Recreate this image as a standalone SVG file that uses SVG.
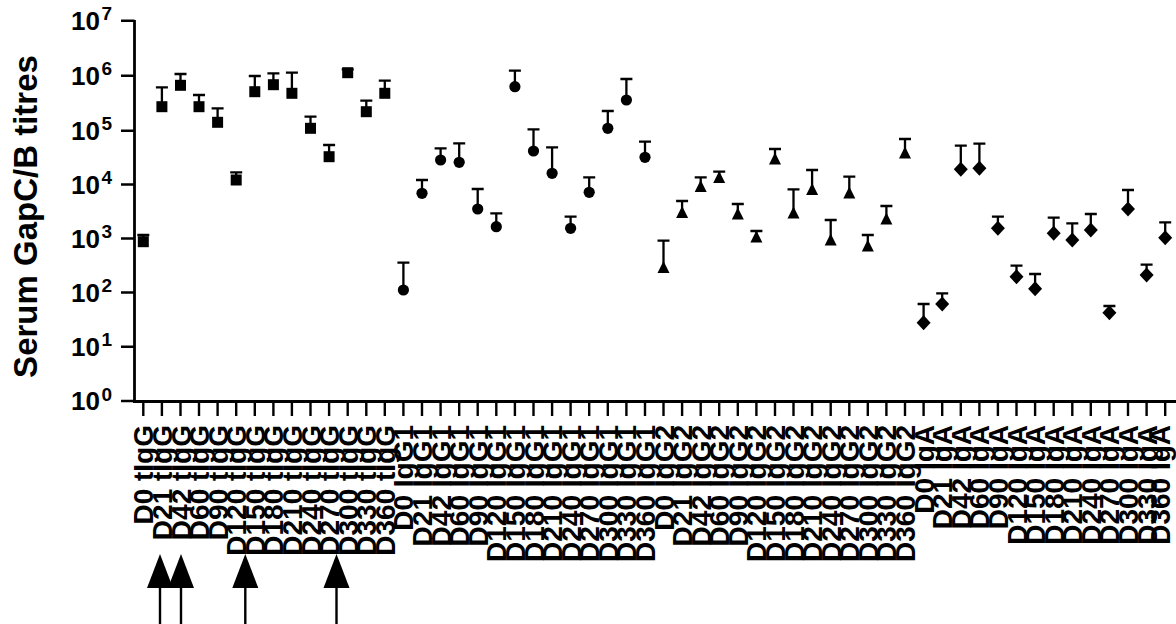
<svg xmlns="http://www.w3.org/2000/svg" xmlns:xlink="http://www.w3.org/1999/xlink" width="1176" height="624" viewBox="0 0 1176 624">
<style>
.ax{stroke:#000;stroke-width:2.8;fill:none}
.tk{stroke:#000;stroke-width:2.4;fill:none}
.eb{stroke:#000;stroke-width:2.3;fill:none}
.t{font-family:"Liberation Sans",Arial,sans-serif;font-weight:bold;fill:#000}
.yl{font-size:26px}
.ys{font-size:19px}
.xl{font-size:28px}
.ttl{font-size:33px}
</style>
<defs>
<rect id="sq" x="-5.5" y="-5.5" width="11" height="11" fill="#000"/>
<circle id="ci" r="5.6" fill="#000"/>
<polygon id="tr" points="0,-6 6,6 -6,6" fill="#000"/>
<polygon id="di" points="0,-7.5 7,0 0,7.5 -7,0" fill="#000"/>
</defs>
<rect width="1176" height="624" fill="#fff"/>
<g id="y-axis">
<path class="ax" d="M134.5,20 V402"/>
<path class="tk" d="M121,20.7H134.5M121,75.7H134.5M121,130.7H134.5M121,184.5H134.5M121,238.5H134.5M121,292.5H134.5M121,346.7H134.5M121,401H134.5"/>
<text class="t yl" x="100" y="29.5" text-anchor="end">10</text><text class="t ys" x="101.5" y="20">7</text>
<text class="t yl" x="100" y="84.5" text-anchor="end">10</text><text class="t ys" x="101.5" y="75">6</text>
<text class="t yl" x="100" y="139.5" text-anchor="end">10</text><text class="t ys" x="101.5" y="130">5</text>
<text class="t yl" x="100" y="193.5" text-anchor="end">10</text><text class="t ys" x="101.5" y="184">4</text>
<text class="t yl" x="100" y="247.5" text-anchor="end">10</text><text class="t ys" x="101.5" y="238">3</text>
<text class="t yl" x="100" y="301.5" text-anchor="end">10</text><text class="t ys" x="101.5" y="292">2</text>
<text class="t yl" x="100" y="355.5" text-anchor="end">10</text><text class="t ys" x="101.5" y="346">1</text>
<text class="t yl" x="100" y="410" text-anchor="end">10</text><text class="t ys" x="101.5" y="400.5">0</text>
<text class="t ttl" transform="translate(37,216.5) rotate(-90)" text-anchor="middle">Serum GapC/B titres</text>
</g>
<g id="x-axis">
<path class="ax" d="M133,401.5 H1176"/>
<path class="tk" d="M143.3,401V416M161.9,401V416M180.5,401V416M199,401V416M217.6,401V416M236.2,401V416M254.8,401V416M273.4,401V416M291.9,401V416M310.5,401V416M329.1,401V416M347.7,401V416M366.3,401V416M384.8,401V416M403.4,401V416M422,401V416M440.6,401V416M459.2,401V416M477.7,401V416M496.3,401V416M514.9,401V416M533.5,401V416M552.1,401V416M570.6,401V416M589.2,401V416M607.8,401V416M626.4,401V416M645,401V416M663.5,401V416M682.1,401V416M700.7,401V416M719.2,401V416M737.8,401V416M756.4,401V416M775,401V416M793.5,401V416M812.1,401V416M830.7,401V416M849.3,401V416M867.8,401V416M886.4,401V416M905,401V416M923.6,401V416M942.2,401V416M960.8,401V416M979.4,401V416M997.9,401V416M1016.5,401V416M1035.1,401V416M1053.7,401V416M1072.3,401V416M1090.8,401V416M1109.4,401V416M1128,401V416M1146.6,401V416M1165.2,401V416"/>
</g>
<g id="x-labels" class="t xl" text-anchor="end">
<text transform="translate(153.3,425) rotate(-90)">D0 tIgG</text>
<text transform="translate(171.9,425) rotate(-90)">D21 tIgG</text>
<text transform="translate(190.5,425) rotate(-90)">D42 tIgG</text>
<text transform="translate(209,425) rotate(-90)">D60 tIgG</text>
<text transform="translate(227.6,425) rotate(-90)">D90 tIgG</text>
<text transform="translate(246.2,425) rotate(-90)">D120 tIgG</text>
<text transform="translate(264.8,425) rotate(-90)">D150 tIgG</text>
<text transform="translate(283.4,425) rotate(-90)">D180 tIgG</text>
<text transform="translate(301.9,425) rotate(-90)">D210 tIgG</text>
<text transform="translate(320.5,425) rotate(-90)">D240 tIgG</text>
<text transform="translate(339.1,425) rotate(-90)">D270 tIgG</text>
<text transform="translate(357.7,425) rotate(-90)">D300 tIgG</text>
<text transform="translate(376.3,425) rotate(-90)">D330 tIgG</text>
<text transform="translate(394.8,425) rotate(-90)">D360 tIgG</text>
<text transform="translate(413.4,425) rotate(-90)">D0 IgG1</text>
<text transform="translate(432,425) rotate(-90)">D21 IgG1</text>
<text transform="translate(450.6,425) rotate(-90)">D42 IgG1</text>
<text transform="translate(469.2,425) rotate(-90)">D60 IgG1</text>
<text transform="translate(487.7,425) rotate(-90)">D90 IgG1</text>
<text transform="translate(506.3,425) rotate(-90)">D120 IgG1</text>
<text transform="translate(524.9,425) rotate(-90)">D150 IgG1</text>
<text transform="translate(543.5,425) rotate(-90)">D180 IgG1</text>
<text transform="translate(562.1,425) rotate(-90)">D210 IgG1</text>
<text transform="translate(580.6,425) rotate(-90)">D240 IgG1</text>
<text transform="translate(599.2,425) rotate(-90)">D270 IgG1</text>
<text transform="translate(617.8,425) rotate(-90)">D300 IgG1</text>
<text transform="translate(636.4,425) rotate(-90)">D330 IgG1</text>
<text transform="translate(655,425) rotate(-90)">D360 IgG1</text>
<text transform="translate(673.5,425) rotate(-90)">D0 IgG2</text>
<text transform="translate(692.1,425) rotate(-90)">D21 IgG2</text>
<text transform="translate(710.7,425) rotate(-90)">D42 IgG2</text>
<text transform="translate(729.2,425) rotate(-90)">D60 IgG2</text>
<text transform="translate(747.8,425) rotate(-90)">D90 IgG2</text>
<text transform="translate(766.4,425) rotate(-90)">D120 IgG2</text>
<text transform="translate(785,425) rotate(-90)">D150 IgG2</text>
<text transform="translate(803.5,425) rotate(-90)">D180 IgG2</text>
<text transform="translate(822.1,425) rotate(-90)">D210 IgG2</text>
<text transform="translate(840.7,425) rotate(-90)">D240 IgG2</text>
<text transform="translate(859.3,425) rotate(-90)">D270 IgG2</text>
<text transform="translate(877.8,425) rotate(-90)">D300 IgG2</text>
<text transform="translate(896.4,425) rotate(-90)">D330 IgG2</text>
<text transform="translate(915,425) rotate(-90)">D360 IgG2</text>
<text transform="translate(933.6,425) rotate(-90)">D0 IgA</text>
<text transform="translate(952.2,425) rotate(-90)">D21 IgA</text>
<text transform="translate(970.8,425) rotate(-90)">D42 IgA</text>
<text transform="translate(989.4,425) rotate(-90)">D60 IgA</text>
<text transform="translate(1007.9,425) rotate(-90)">D90 IgA</text>
<text transform="translate(1026.5,425) rotate(-90)">D120 IgA</text>
<text transform="translate(1045.1,425) rotate(-90)">D150 IgA</text>
<text transform="translate(1063.7,425) rotate(-90)">D180 IgA</text>
<text transform="translate(1082.3,425) rotate(-90)">D210 IgA</text>
<text transform="translate(1100.8,425) rotate(-90)">D240 IgA</text>
<text transform="translate(1119.4,425) rotate(-90)">D270 IgA</text>
<text transform="translate(1138,425) rotate(-90)">D300 IgA</text>
<text transform="translate(1156.6,425) rotate(-90)">D330 IgA</text>
<text transform="translate(1169.5,425) rotate(-90)">D360 IgA</text>
</g>
<g id="error-bars">
<path class="eb" d="M143.3,241.7V235M137.3,235H149.3 M161.9,106.7V87.3M155.9,87.3H167.9 M180.5,85.3V74M174.5,74H186.5 M199,106.7V95M193,95H205 M217.6,122.3V108.3M211.6,108.3H223.6 M236.2,180V172.3M230.2,172.3H242.2 M254.8,91.7V76M248.8,76H260.8 M273.4,84.7V73.3M267.4,73.3H279.4 M291.9,93.3V72.7M285.9,72.7H297.9 M310.5,128.3V116.7M304.5,116.7H316.5 M329.1,156.7V145M323.1,145H335.1 M347.7,72.7V69.3M341.7,69.3H353.7 M366.3,111.7V100.7M360.3,100.7H372.3 M384.8,93.3V80.7M378.8,80.7H390.8"/>
<path class="eb" d="M403.4,290V262.7M397.4,262.7H409.4 M422,193.3V180M416,180H428 M440.6,160V148.3M434.6,148.3H446.6 M459.2,162.3V143.3M453.2,143.3H465.2 M477.7,209V189M471.7,189H483.7 M496.3,226.7V213.3M490.3,213.3H502.3 M514.9,86.7V70.7M508.9,70.7H520.9 M533.5,151V129.3M527.5,129.3H539.5 M552.1,173.3V147.3M546.1,147.3H558.1 M570.6,228.3V216.7M564.6,216.7H576.6 M589.2,192.3V177.3M583.2,177.3H595.2 M607.8,128.3V111M601.8,111H613.8 M626.4,100V79M620.4,79H632.4 M645,157.3V141.7M639,141.7H651"/>
<path class="eb" d="M663.5,267V240.7M657.5,240.7H669.5 M682.1,212V201M676.1,201H688.1 M700.7,186V177.3M694.7,177.3H706.7 M719.2,177V171.7M713.2,171.7H725.2 M737.8,213.5V204M731.8,204H743.8 M756.4,236.5V231M750.4,231H762.4 M775,158.5V149M769,149H781 M793.5,212.5V189.3M787.5,189.3H799.5 M812.1,189V170M806.1,170H818.1 M830.7,239.5V220M824.7,220H836.7 M849.3,192.5V176.7M843.3,176.7H855.3 M867.8,245.5V235M861.8,235H873.8 M886.4,218.5V206M880.4,206H892.4 M905,152.5V139M899,139H911"/>
<path class="eb" d="M923.6,322.7V304M917.6,304H929.6 M942.2,304V293.3M936.2,293.3H948.2 M960.8,169.3V145.7M954.8,145.7H966.8 M979.4,168.3V143.7M973.4,143.7H985.4 M997.9,228.3V216.7M991.9,216.7H1003.9 M1016.5,276.7V265.7M1010.5,265.7H1022.5 M1035.1,288.7V274M1029.1,274H1041.1 M1053.7,233.3V217.7M1047.7,217.7H1059.7 M1072.3,240V223.3M1066.3,223.3H1078.3 M1090.8,230V214M1084.8,214H1096.8 M1109.4,312.7V306M1103.4,306H1115.4 M1128,209V190M1122,190H1134 M1146.6,275V264.7M1140.6,264.7H1152.6 M1165.2,237.7V222.3M1159.2,222.3H1171.2"/>
</g>
<g id="series-tIgG">
<use href="#sq" x="143.3" y="241.7"/><use href="#sq" x="161.9" y="106.7"/><use href="#sq" x="180.5" y="85.3"/><use href="#sq" x="199" y="106.7"/><use href="#sq" x="217.6" y="122.3"/><use href="#sq" x="236.2" y="180"/><use href="#sq" x="254.8" y="91.7"/><use href="#sq" x="273.4" y="84.7"/><use href="#sq" x="291.9" y="93.3"/><use href="#sq" x="310.5" y="128.3"/><use href="#sq" x="329.1" y="156.7"/><use href="#sq" x="347.7" y="72.7"/><use href="#sq" x="366.3" y="111.7"/><use href="#sq" x="384.8" y="93.3"/>
</g>
<g id="series-IgG1">
<use href="#ci" x="403.4" y="290"/><use href="#ci" x="422" y="193.3"/><use href="#ci" x="440.6" y="160"/><use href="#ci" x="459.2" y="162.3"/><use href="#ci" x="477.7" y="209"/><use href="#ci" x="496.3" y="226.7"/><use href="#ci" x="514.9" y="86.7"/><use href="#ci" x="533.5" y="151"/><use href="#ci" x="552.1" y="173.3"/><use href="#ci" x="570.6" y="228.3"/><use href="#ci" x="589.2" y="192.3"/><use href="#ci" x="607.8" y="128.3"/><use href="#ci" x="626.4" y="100"/><use href="#ci" x="645" y="157.3"/>
</g>
<g id="series-IgG2">
<use href="#tr" x="663.5" y="267"/><use href="#tr" x="682.1" y="212"/><use href="#tr" x="700.7" y="186"/><use href="#tr" x="719.2" y="177"/><use href="#tr" x="737.8" y="213.5"/><use href="#tr" x="756.4" y="236.5"/><use href="#tr" x="775" y="158.5"/><use href="#tr" x="793.5" y="212.5"/><use href="#tr" x="812.1" y="189"/><use href="#tr" x="830.7" y="239.5"/><use href="#tr" x="849.3" y="192.5"/><use href="#tr" x="867.8" y="245.5"/><use href="#tr" x="886.4" y="218.5"/><use href="#tr" x="905" y="152.5"/>
</g>
<g id="series-IgA">
<use href="#di" x="923.6" y="322.7"/><use href="#di" x="942.2" y="304"/><use href="#di" x="960.8" y="169.3"/><use href="#di" x="979.4" y="168.3"/><use href="#di" x="997.9" y="228.3"/><use href="#di" x="1016.5" y="276.7"/><use href="#di" x="1035.1" y="288.7"/><use href="#di" x="1053.7" y="233.3"/><use href="#di" x="1072.3" y="240"/><use href="#di" x="1090.8" y="230"/><use href="#di" x="1109.4" y="312.7"/><use href="#di" x="1128" y="209"/><use href="#di" x="1146.6" y="275"/><use href="#di" x="1165.2" y="237.7"/>
</g>
<g id="arrows">
<path class="tk" d="M160,588V624M181,588V624M245.3,588V624M336.5,588V624"/>
<polygon points="160,554 173,588 147,588" fill="#000"/>
<polygon points="181,554 194,588 168,588" fill="#000"/>
<polygon points="245.3,554 258.3,588 232.3,588" fill="#000"/>
<polygon points="336.5,554 349.5,588 323.5,588" fill="#000"/>
</g>
</svg>
